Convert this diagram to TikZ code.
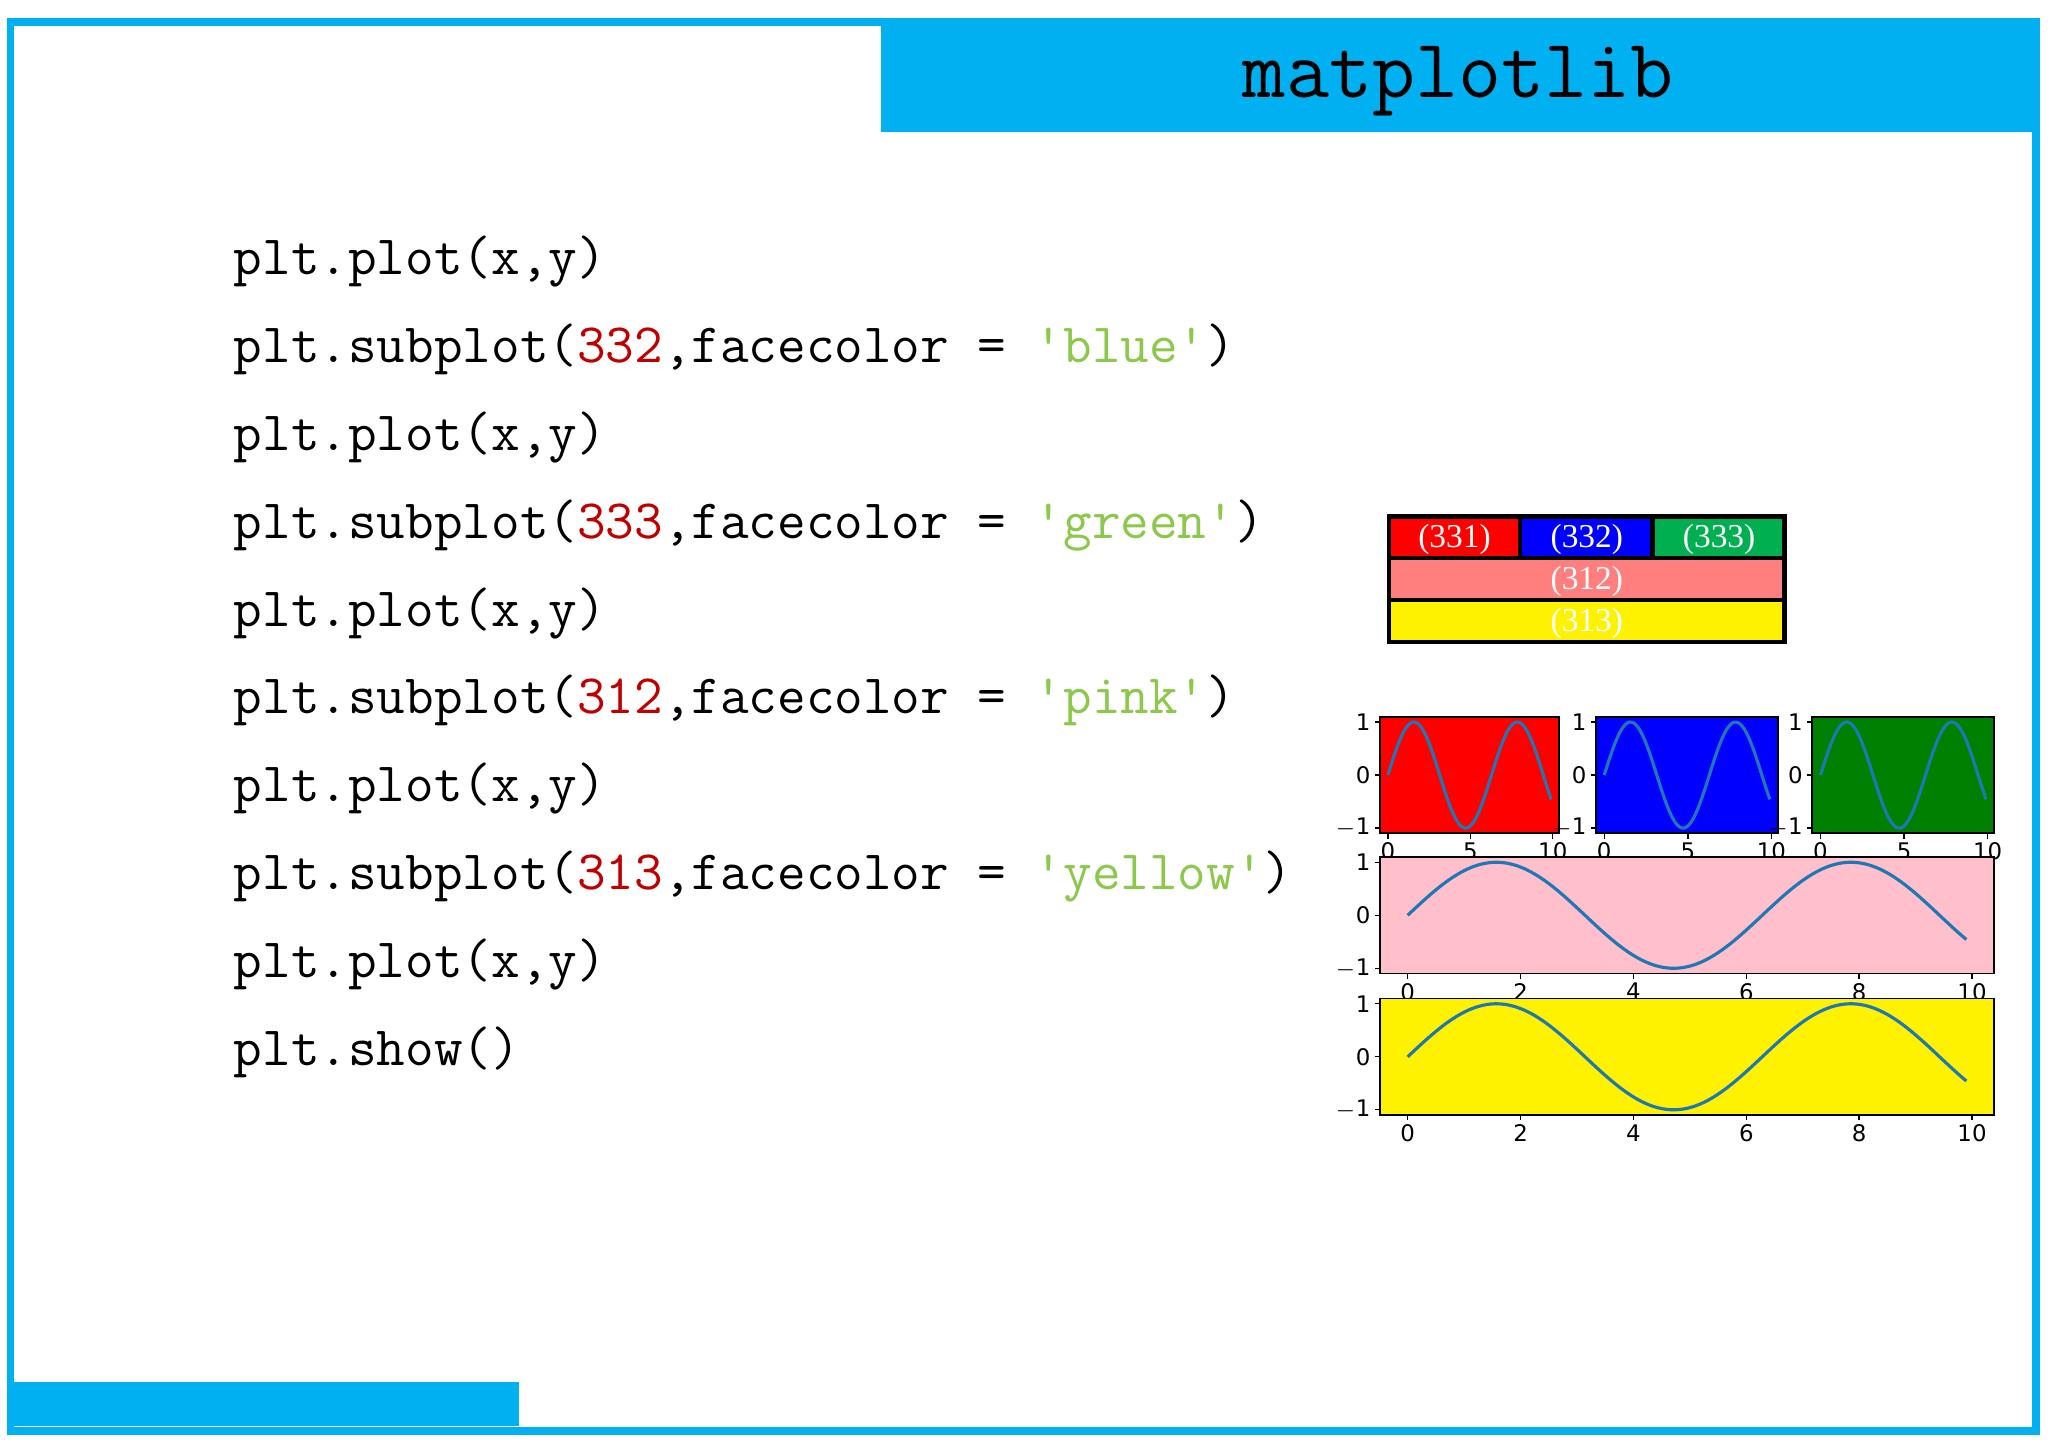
\documentclass[tikz,border=0pt]{standalone}
\usepackage{fontspec}
\newfontfamily\serf{Liberation Serif}
\newfontfamily\dvs{DejaVu Sans}
\definecolor{sky}{HTML}{00B0F0}
\definecolor{numc}{HTML}{C00000}
\definecolor{strc}{HTML}{8CC84B}
\definecolor{mplblue}{HTML}{1F77B4}
\definecolor{lgreen}{HTML}{00B050}
\definecolor{lpink}{HTML}{FF7F7F}
\definecolor{mplgreen}{HTML}{008000}
\definecolor{mplpink}{HTML}{FFC0CB}
\newcommand\q{\char"27\relax}
\tikzset{
  codeline/.style={anchor=mid west,inner sep=0pt,font=\ttfamily\fontsize{15.8}{18}\selectfont},
  legbox/.style={draw=black,line width=1.3pt,text=white,font=\serf\fontsize{9.5}{11}\selectfont,inner sep=0pt},
  tick/.style={font=\dvs\fontsize{6.5}{7}\selectfont,inner sep=1pt},
}
% axes: x0,y0,x1,y1,facecolor,xtick step
\newcommand\mplax[6]{%
  \fill[#5] (#1,#2) rectangle (#3,#4);
  \pgfmathsetmacro\W{#3-#1}\pgfmathsetmacro\H{#4-#2}\pgfmathsetmacro\YM{(#2+#4)/2}%
  \draw[mplblue,line width=0.9pt] plot[domain=0:9.9,samples=120,smooth] ({#1+(\x+0.495)/10.89*\W},{\YM-sin(\x r)/1.1*\H/2});
  \draw[black,line width=0.5pt] (#1,#2) rectangle (#3,#4);
  \foreach \v/\lab in {1/1,0/0,-1/{$-$1}}{%
    \draw (#1,{\YM-\v/1.1*\H/2}) -- ++(-4,0) node[tick,anchor=east] {\lab};}
  \foreach \t in {0,#6,...,10}{%
    \draw ({#1+(\t+0.495)/10.89*\W},#4) -- ++(0,4) node[tick,anchor=north] {\t};}
}
\begin{document}
\begin{tikzpicture}[x=0.131mm,y=-0.131mm]
\useasboundingbox (0,0) rectangle (1563,1104);
\fill[white] (0,0) rectangle (1563,1104);
\fill[sky] (672,15) rectangle (1556,101);
\fill[sky] (8,1055) rectangle (396,1088);
\draw[sky,line width=2.2pt] (8,17) rectangle (1554,1092);
\node[font=\ttfamily\fontsize{23.8}{26}\selectfont] (title) at (1113,62) {matplotlib};
\node[codeline] (c1) at (178,204) {plt.plot(x,y)};
\node[codeline] (c2) at (178,271) {plt.subplot(\textcolor{numc}{332},facecolor = \textcolor{strc}{\q blue\q})};
\node[codeline] (c3) at (178,338) {plt.plot(x,y)};
\node[codeline] (c4) at (178,405) {plt.subplot(\textcolor{numc}{333},facecolor = \textcolor{strc}{\q green\q})};
\node[codeline] (c5) at (178,472) {plt.plot(x,y)};
\node[codeline] (c6) at (178,539) {plt.subplot(\textcolor{numc}{312},facecolor = \textcolor{strc}{\q pink\q})};
\node[codeline] (c7) at (178,606) {plt.plot(x,y)};
\node[codeline] (c8) at (178,673) {plt.subplot(\textcolor{numc}{313},facecolor = \textcolor{strc}{\q yellow\q})};
\node[codeline] (c9) at (178,740) {plt.plot(x,y)};
\node[codeline] (c10) at (178,807) {plt.show()};
% legend
\draw[legbox,fill=red] (1060,394) rectangle (1160,426);
\draw[legbox,fill=blue] (1160,394) rectangle (1261,426);
\draw[legbox,fill=lgreen] (1261,394) rectangle (1362,426);
\draw[legbox,fill=lpink] (1060,426) rectangle (1362,458);
\draw[legbox,fill=yellow] (1060,458) rectangle (1362,490);
\node[legbox,draw=none] (l331) at (1110,412) {(331)};
\node[legbox,draw=none] (l332) at (1211,412) {(332)};
\node[legbox,draw=none] (l333) at (1312,412) {(333)};
\node[legbox,draw=none] (l312) at (1211,444) {(312)};
\node[legbox,draw=none] (l313) at (1211,476) {(313)};
% plots
\mplax{1053}{547}{1190}{636}{red}{5}
\mplax{1218}{547}{1357}{636}{blue}{5}
\mplax{1383}{547}{1522}{636}{mplgreen}{5}
\mplax{1053}{654}{1522}{743}{mplpink}{2}
\mplax{1053}{762}{1522}{851}{yellow}{2}
\end{tikzpicture}
\end{document}
